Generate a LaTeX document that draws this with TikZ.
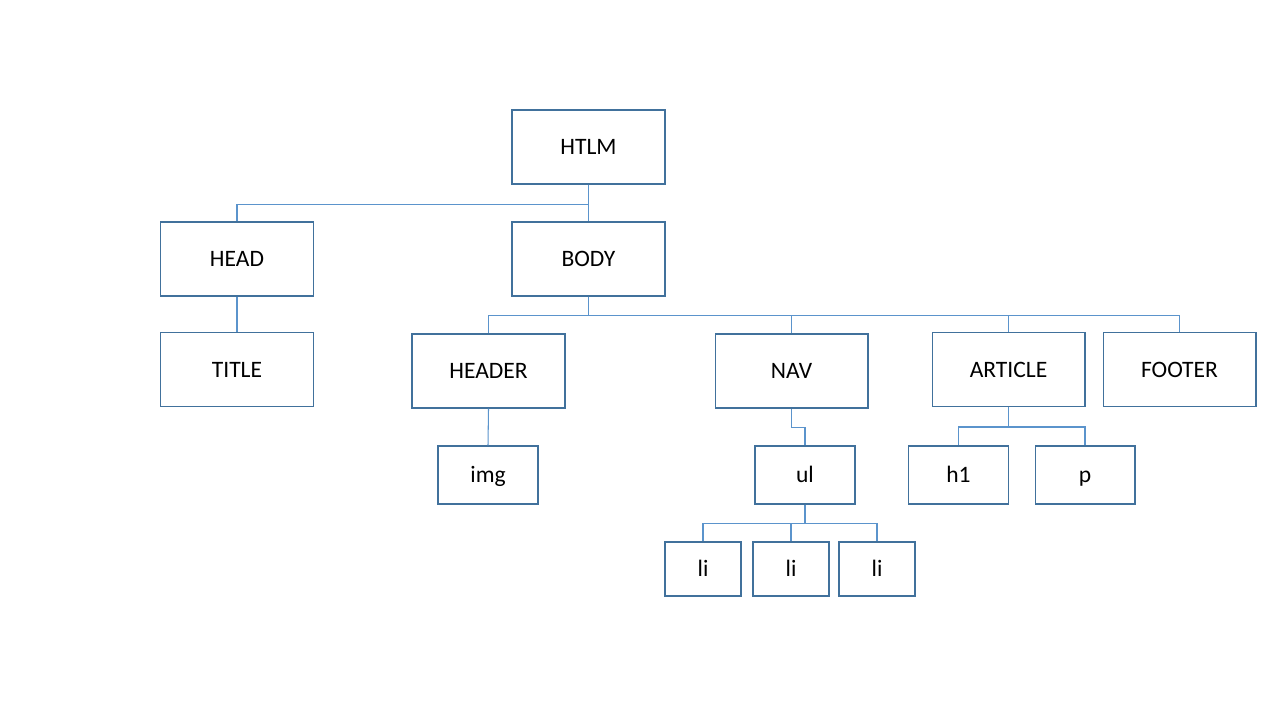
\documentclass[tikz,border=0pt]{standalone}
\usepackage{fontspec}
\setmainfont{Carlito}
\definecolor{boxblue}{RGB}{65,113,156}
\definecolor{lineblue}{RGB}{91,148,204}

\begin{document}
\begin{tikzpicture}[x=0.02cm,y=-0.02cm,
		box/.style={draw=boxblue,line width=0.6pt,fill=white,minimum width=3.06cm,minimum height=1.48cm,inner sep=0pt,text height=0.9em,text depth=0pt,font=\fontsize{13.4}{16}\selectfont},
		small/.style={box,minimum width=2cm,minimum height=1.16cm},
		tiny/.style={box,minimum width=1.52cm,minimum height=1.08cm},
		link/.style={draw=lineblue,line width=0.6pt}]
				\useasboundingbox (0,0) rectangle (1280,720);
				\node[box] (htlm) at (588.5, 147) {HTLM};
				\node[box] (head) at (237, 259) {HEAD};
				\node[box] (body) at (588.5, 259) {BODY};
				\node[box] (title) at (237, 369.5) {TITLE};
				\node[box] (header) at (488.5, 371) {HEADER};
				\node[box] (nav) at (791.5, 371) {NAV};
				\node[box] (article) at (1008.5, 369.5) {ARTICLE};
				\node[box] (footer) at (1179.5, 369.5) {FOOTER};
				\node[small] (img) at (488, 475) {img};
				\node[small] (ul) at (805, 475) {ul};
				\node[small] (h1) at (958.5, 475) {h1};
				\node[small] (p) at (1085, 475) {p};
				\node[tiny] (li1) at (703, 569) {li};
				\node[tiny] (li2) at (791, 569) {li};
				\node[tiny] (li3) at (877, 569) {li};
				\draw[link] (htlm.south) -- ++(0,20) -| (head.north);
				\draw[link] (htlm.south) -- (body.north);
				\draw[link] (head.south) -- (title.north);
				\draw[link] (body.south) -- ++(0,19) -| (header.north);
				\draw[link] (body.south) -- ++(0,19) -| (nav.north);
				\draw[link] (body.south) -- ++(0,19) -| (article.north);
				\draw[link] (body.south) -- ++(0,19) -| (footer.north);
				\draw[link] (header.south) -- (img.north);
				\draw[link] (nav.south) -- ++(0,19) -| (ul.north);
				\draw[link] (article.south) -- ++(0,20) -| (h1.north);
				\draw[link] (article.south) -- ++(0,20) -| (p.north);
				\draw[link] (ul.south) -- ++(0,19) -| (li1.north);
				\draw[link] (ul.south) -- ++(0,19) -| (li2.north);
				\draw[link] (ul.south) -- ++(0,19) -| (li3.north);
			\end{tikzpicture}
\end{document}
